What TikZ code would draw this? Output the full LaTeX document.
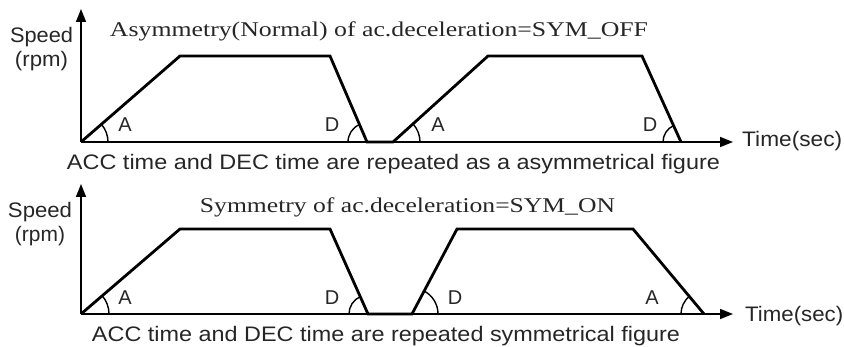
\documentclass[tikz,border=0pt]{standalone}
\usepackage{fontspec}
\setmainfont{Liberation Serif}
\setsansfont{Liberation Sans}
\usetikzlibrary{arrows.meta}
\newcommand\fitw[2]{\resizebox{#1}{\height}{#2}}
\begin{document}
\begin{tikzpicture}[x=1pt,y=-1pt,
  axis/.style={line width=1.6pt, -{Triangle[length=13pt,width=10pt]}},
  prof/.style={line width=2.8pt, line join=miter},
  angarc/.style={line width=1.4pt},
  txt/.style={inner sep=0pt, anchor=base, text=black!85},
  sanslbl/.style={txt, font=\sffamily\fontsize{21}{21}\selectfont},
  seriflbl/.style={txt, font=\rmfamily\fontsize{21}{21}\selectfont},
  anglbl/.style={txt, font=\sffamily\fontsize{20}{20}\selectfont}]
\useasboundingbox (0,0) rectangle (844,347);

% ---------- top panel ----------
\coordinate (o1) at (81,142);
\coordinate (ytip1) at (81,9);
\coordinate (xtip1) at (733,142);
\coordinate (p11) at (180,56);
\coordinate (p12) at (330,56);
\coordinate (p13) at (367,142);
\coordinate (p14) at (393,142);
\coordinate (p15) at (488,56);
\coordinate (p16) at (642,56);
\coordinate (p17) at (681,142);

\draw[axis] (o1) -- (ytip1);
\draw[axis] (o1) -- (xtip1);
\draw[prof] (o1) -- (p11) -- (p12) -- (p13) -- (p14) -- (p15) -- (p16) -- (p17);

\draw[angarc] ([xshift=27pt]o1) arc[start angle=0, end angle=41, radius=27pt];
\draw[angarc] ([xshift=-19pt]p13) arc[start angle=180, end angle=113.3, radius=19pt];
\draw[angarc] ([xshift=27pt]p14) arc[start angle=0, end angle=42.2, radius=27pt];
\draw[angarc] ([xshift=-18pt]p17) arc[start angle=180, end angle=114.4, radius=18pt];

\node[anglbl] (a11) at (125,132) {A};
\node[anglbl] (d11) at (332,132) {D};
\node[anglbl] (a12) at (438,132) {A};
\node[anglbl] (d12) at (650,132) {D};

\node[seriflbl] (title1) at (379,37) {\fitw{538pt}{Asymmetry(Normal) of ac.deceleration=SYM\_OFF}};
\node[sanslbl] (spd1) at (41.5,43) {\fitw{63pt}{Speed}};
\node[sanslbl] (rpm1) at (41.5,67) {\fitw{53pt}{(rpm)}};
\node[sanslbl, anchor=base west] (time1) at (742,147) {\fitw{100pt}{Time(sec)}};
\node[sanslbl] (cap1) at (393.5,170) {\fitw{653pt}{ACC time and DEC time are repeated as a asymmetrical figure}};

% ---------- bottom panel ----------
\coordinate (o2) at (81,314);
\coordinate (ytip2) at (81,184);
\coordinate (xtip2) at (733,314);
\coordinate (q11) at (180,229);
\coordinate (q12) at (330,229);
\coordinate (q13) at (368,314);
\coordinate (q14) at (412,314);
\coordinate (q15) at (457,229);
\coordinate (q16) at (633,229);
\coordinate (q17) at (704,314);

\draw[axis] (o2) -- (ytip2);
\draw[axis] (o2) -- (xtip2);
\draw[prof] (o2) -- (q11) -- (q12) -- (q13) -- (q14) -- (q15) -- (q16) -- (q17);

\draw[angarc] ([xshift=28pt]o2) arc[start angle=0, end angle=40.7, radius=28pt];
\draw[angarc] ([xshift=-19pt]q13) arc[start angle=180, end angle=114.1, radius=19pt];
\draw[angarc] ([xshift=26pt]q14) arc[start angle=0, end angle=62.1, radius=26pt];
\draw[angarc] ([xshift=-23pt]q17) arc[start angle=180, end angle=129.9, radius=23pt];

\node[anglbl] (a21) at (125,305) {A};
\node[anglbl] (d21) at (332,305) {D};
\node[anglbl] (d22) at (455,305) {D};
\node[anglbl] (a22) at (652,305) {A};

\node[seriflbl] (title2) at (407.5,213) {\fitw{415pt}{Symmetry of ac.deceleration=SYM\_ON}};
\node[sanslbl] (spd2) at (40,218) {\fitw{64pt}{Speed}};
\node[sanslbl] (rpm2) at (40,242) {\fitw{50pt}{(rpm)}};
\node[sanslbl, anchor=base west] (time2) at (745,322) {\fitw{98pt}{Time(sec)}};
\node[sanslbl] (cap2) at (386,342) {\fitw{588pt}{ACC time and DEC time are repeated symmetrical figure}};
\end{tikzpicture}
\end{document}
